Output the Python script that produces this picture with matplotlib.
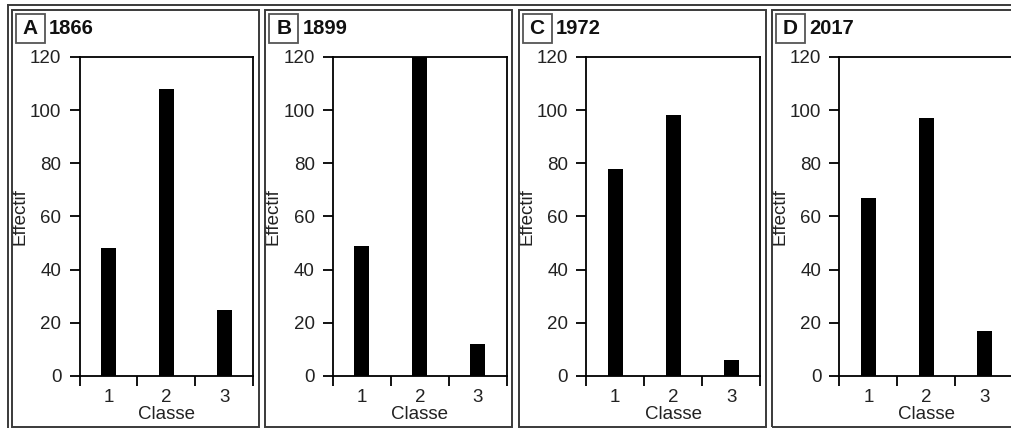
import matplotlib
matplotlib.use("Agg")
import matplotlib.pyplot as plt
from matplotlib.patches import Rectangle
from matplotlib.lines import Line2D

panel_letters = ["A", "B", "C", "D"]
years = ["1866", "1899", "1972", "2017"]
classes = [1, 2, 3]
counts_1866 = [48, 108, 25]
counts_1899 = [49, 120, 12]
counts_1972 = [78, 98, 6]
counts_2017 = [67, 97, 17]
y_ticks = [0, 20, 40, 60, 80, 100, 120]
x_label = "Classe"
y_label = "Effectif"

all_counts = [counts_1866, counts_1899, counts_1972, counts_2017]

plt.rcParams['font.family'] = ['Liberation Sans', 'DejaVu Sans']

W, H = 1012, 428
fig = plt.figure(figsize=(W / 100, H / 100), dpi=100)


def fx(px):
    return px / W


def fy(py):
    return 1 - py / H


border_col = "#3a3a3a"

# outer frame
fig.add_artist(Line2D([fx(8), fx(8)], [fy(5), fy(440)], color=border_col, lw=1.4))
fig.add_artist(Line2D([fx(8), fx(1030)], [fy(5), fy(5)], color=border_col, lw=1.4))

panel_w = 247
spacing = 253.3
ax_w = 174
ax_top, ax_bot = 57, 376

for i in range(4):
    p0 = 12 + spacing * i
    # panel box
    fig.add_artist(Rectangle((fx(p0), fy(427)), fx(panel_w), (427 - 10) / H,
                             transform=fig.transFigure, fill=False,
                             edgecolor=border_col, lw=1.4))
    # label box
    fig.add_artist(Rectangle((fx(p0 + 4), fy(43)), fx(29), (43 - 14) / H,
                             transform=fig.transFigure, fill=False,
                             edgecolor="#555555", lw=1.3))
    fig.text(fx(p0 + 18.5), fy(29), panel_letters[i], ha="center", va="center",
             fontsize=15, fontweight="bold", color="#111111")
    fig.text(fx(p0 + 37), fy(29), years[i], ha="left", va="center",
             fontsize=14.5, fontweight="bold", color="#111111")

    left = p0 + 67.5
    ax = fig.add_axes([fx(left), fy(ax_bot), fx(ax_w), (ax_bot - ax_top) / H])
    ax.bar(classes, all_counts[i], width=0.26, color="black")
    ax.set_xlim(0.5, 3.5)
    ax.set_ylim(0, 120)
    ax.set_yticks(y_ticks)
    ax.set_xticks([0.5, 1.5, 2.5, 3.5])
    ax.set_xticklabels([])
    ax.set_xticks(classes, minor=True)
    ax.set_xticklabels([str(c) for c in classes], minor=True)
    ax.tick_params(axis="x", which="major", length=7, width=1.3, direction="out")
    ax.tick_params(axis="x", which="minor", length=0, pad=9, labelsize=13.5,
                   labelcolor="#222222")
    ax.tick_params(axis="y", length=7.5, width=1.3, pad=5.5, labelsize=13.5,
                   labelcolor="#222222")
    for s in ax.spines.values():
        s.set_linewidth(1.3)
        s.set_color("black")
    ax.set_xlabel(x_label, fontsize=13.5, labelpad=0.5, color="#222222")
    ax.set_ylabel(y_label, fontsize=13.5, labelpad=1, color="#222222")

fig.savefig("out.png", dpi=100)
